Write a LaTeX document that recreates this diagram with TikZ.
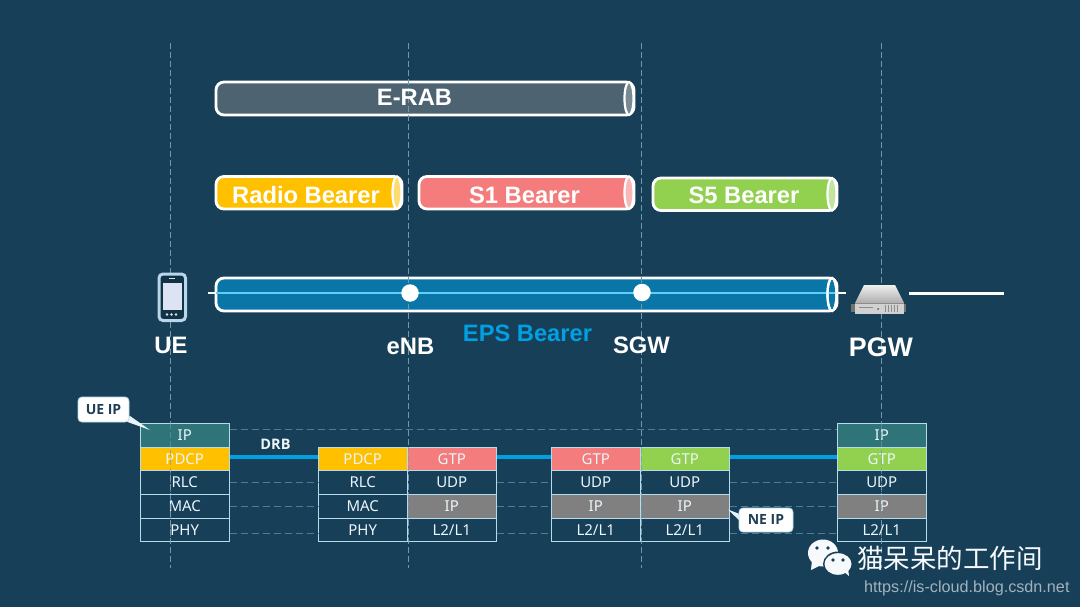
\documentclass[tikz,border=0pt]{standalone}
\usepackage{fontspec}
\setmainfont{Liberation Sans}
\newfontfamily\cellf{Noto Sans}
\newfontfamily\boldf{Open Sans}
\newfontfamily\cjk{Noto Sans CJK SC}
\usetikzlibrary{calc}
\definecolor{bg}{HTML}{173F58}
\definecolor{cellline}{HTML}{B5DCE8}
\definecolor{dashc}{HTML}{6F9AAE}
\definecolor{hdashc}{HTML}{4F7C92}
\definecolor{linkc}{HTML}{00A0E3}
\definecolor{tealc}{HTML}{2F7479}
\definecolor{yel}{HTML}{FFC000}
\definecolor{red1}{HTML}{F47C7C}
\definecolor{grn}{HTML}{92D050}
\definecolor{gry}{HTML}{808080}
\definecolor{rabc}{HTML}{4E6371}
\definecolor{epsc}{HTML}{0A76A8}
\definecolor{epsl}{HTML}{62CDF7}
\definecolor{phonec}{HTML}{B9D6EA}
\definecolor{screenc}{HTML}{DDE3F3}
\definecolor{txtc}{HTML}{EAF6FA}
\definecolor{callt}{HTML}{1F3F55}
\tikzset{
  cell/.style={draw=cellline,line width=0.9pt,minimum width=89pt,minimum height=23.7pt,inner sep=0pt,anchor=north west,text=txtc,font=\cellf\fontsize{15}{15}\selectfont},
  pipebody/.style={draw=white,line width=2.8pt,rounded corners=8pt,inner sep=0pt},
  head/.style={text=white,font=\bfseries\fontsize{23.8}{24}\selectfont,inner sep=0pt},
  pipetxt/.style={text=white,font=\bfseries\fontsize{23.7}{24}\selectfont,inner sep=0pt},
  vguide/.style={draw=dashc,line width=0.6pt,dash pattern=on 6pt off 3pt},
  hguide/.style={draw=hdashc,line width=0.6pt,dash pattern=on 7pt off 4pt},
  linkline/.style={draw=linkc,line width=4.2pt},
  callout/.style={fill=white,draw=cellline,line width=0.8pt,rounded corners=4pt,text=callt,inner sep=0pt,font=\boldf\bfseries\fontsize{14}{14}\selectfont},
}
\newcommand{\pipe}[7]{% name x1 x2 y1 y2 fill endfill
  \node[pipebody,fill=#6,minimum width={#3-#2},minimum height={#5-#4}] (#1) at ({(#2+#3)/2},{(#4+#5)/2}) {};
  \fill[#7] ({#3-5},{(#4+#5)/2}) ellipse [x radius=4.5,y radius={(#5-#4)/2}];
  \draw[white,line width=2.2pt] ({#3-5},{(#4+#5)/2}) ellipse [x radius=4.5,y radius={(#5-#4)/2}];
}
\begin{document}
\begin{tikzpicture}[x=1pt,y=-1pt]
\useasboundingbox (0,0) rectangle (1080,607);
\fill[bg] (0,0) rectangle (1080,607);

% pipes
\pipe{rab}{216}{634}{82}{115}{rabc}{rabc!75!white}
\pipe{radio}{216}{402}{176.5}{209}{yel}{yel!55!white}
\pipe{sone}{419}{634}{176.5}{209}{red1}{red1!55!white}
\pipe{sfive}{653}{837}{178}{210.5}{grn}{grn!55!white}
\coordinate (epsL) at (208,293);
\coordinate (epsR) at (846,293);
\pipe{eps}{216}{837}{278}{311}{epsc}{epsc}
\draw[epsl,line width=2.2pt] (epsL) -- (epsR);
\draw[white,line width=2pt] (208,293) -- (216,293);
\draw[white,line width=2pt] (838,293) -- (846,293);
\draw[white,line width=2.2pt] (832,294.5) ellipse [x radius=4.5,y radius=16.5];

% vertical guides
\foreach \n/\x/\a/\b in {a/170/43/568,b/408/43/568,c/641/43/568,d/881/43/568}{
  \coordinate (vt\n) at (\x,\a);
  \coordinate (vb\n) at (\x,\b);
  \draw[vguide] (vt\n) -- (vb\n);
}

% dots
\node[circle,fill=white,minimum size=17.5pt,inner sep=0pt] (dotE) at (410,293) {};
\node[circle,fill=white,minimum size=17.5pt,inner sep=0pt] (dotS) at (642,292.5) {};
\coordinate (lineA) at (909,293.5);
\coordinate (lineB) at (1004,293.5);
\draw[white,line width=2.2pt] (lineA) -- (lineB);

% pipe labels
\node[pipetxt] (tRab) at (414.5,97) {E-RAB};
\node[pipetxt] (tRadio) at (306,195) {Radio Bearer};
\node[pipetxt] (tSone) at (524.5,195) {S1 Bearer};
\node[pipetxt] (tSfive) at (744,195.5) {S5 Bearer};
\node[pipetxt,text=linkc] (tEps) at (527.5,333) {EPS Bearer};

% phone
\draw[phonec,line width=3pt,fill=bg!80!black,rounded corners=4pt] (159,274) rectangle (185.5,320.5);
\fill[screenc] (163,283) rectangle (182,310);
\fill[screenc] (167,314.5) circle (1.4) (171.5,314.5) circle (1.4) (176,314.5) circle (1.4);
\draw[screenc,line width=1pt] (169,278.5) -- (175,278.5);

% server
\fill[black!55!white] (851,304) rectangle (906,312);
\shade[top color=black!6,bottom color=black!32] (864,285) -- (895,285) -- (904,303) -- (855,303) -- cycle;
\fill[black!18!white] (855,303) rectangle (904,314);
\draw[black!45!white,line width=0.6pt] (855,303) -- (904,303);
\draw[black!45,line width=0.5pt] (859,307) -- (873,307) (885,305) -- (885,312) (888,305) -- (888,312) (891,305) -- (891,312) (894,305) -- (894,312) (897,305) -- (897,312);
\fill[black!65] (878,309) circle (1);

% headings
\node[head] (lUE) at (171,345.5) {UE};
\node[head] (lENB) at (410.5,346) {eNB};
\node[head] (lSGW) at (641.5,345.5) {SGW};
\node[head,font=\bfseries\fontsize{26.8}{27}\selectfont] (lPGW) at (881,347) {PGW};

% stacks
\node[cell,fill=tealc] (uIP) at (139.8,422.8) {IP};
\node[cell,fill=yel] (uPD) at (139.8,446.5) {PDCP};
\node[cell] (uRL) at (139.8,470.2) {RLC};
\node[cell] (uMA) at (139.8,493.9) {MAC};
\node[cell] (uPH) at (139.8,517.6) {PHY};

\node[cell,fill=yel] (ePD) at (317.8,446.5) {PDCP};
\node[cell] (eRL) at (317.8,470.2) {RLC};
\node[cell] (eMA) at (317.8,493.9) {MAC};
\node[cell] (ePH) at (317.8,517.6) {PHY};

\node[cell,fill=red1] (fGT) at (406.8,446.5) {GTP};
\node[cell] (fUD) at (406.8,470.2) {UDP};
\node[cell,fill=gry] (fIP) at (406.8,493.9) {IP};
\node[cell] (fL2) at (406.8,517.6) {L2/L1};

\node[cell,fill=red1] (gGT) at (550.8,446.5) {GTP};
\node[cell] (gUD) at (550.8,470.2) {UDP};
\node[cell,fill=gry] (gIP) at (550.8,493.9) {IP};
\node[cell] (gL2) at (550.8,517.6) {L2/L1};

\node[cell,fill=grn] (hGT) at (639.8,446.5) {GTP};
\node[cell] (hUD) at (639.8,470.2) {UDP};
\node[cell,fill=gry] (hIP) at (639.8,493.9) {IP};
\node[cell] (hL2) at (639.8,517.6) {L2/L1};

\node[cell,fill=tealc] (pIP) at (836.8,422.8) {IP};
\node[cell,fill=grn] (pGT) at (836.8,446.5) {GTP};
\node[cell] (pUD) at (836.8,470.2) {UDP};
\node[cell,fill=gry] (pIPb) at (836.8,493.9) {IP};
\node[cell] (pL2) at (836.8,517.6) {L2/L1};

% guides faintly over stacks
\begin{scope}[opacity=0.6]
\draw[vguide] (170,423) -- (170,542);
\draw[vguide] (408,447) -- (408,542);
\draw[vguide] (641,447) -- (641,542);
\draw[vguide] (881,423) -- (881,542);
\end{scope}

% horizontal guides
\draw[hguide] ([yshift=5.5pt]uIP.east) -- ([yshift=5.5pt]pIP.west);
\draw[hguide] (uRL.east) -- (eRL.west);
\draw[hguide] (uMA.east) -- (eMA.west);
\draw[hguide] ([yshift=-3pt]uPH.east) -- ([yshift=-3pt]ePH.west);
\draw[hguide] (fUD.east) -- (gUD.west);
\draw[hguide] (fIP.east) -- (gIP.west);
\draw[hguide] ([yshift=-3pt]fL2.east) -- ([yshift=-3pt]gL2.west);
\draw[hguide] (hUD.east) -- (pUD.west);
\draw[hguide] (hIP.east) -- (pIPb.west);
\draw[hguide] ([yshift=-3pt]hL2.east) -- ([yshift=-3pt]pL2.west);

% links
\draw[linkline] ([yshift=1.5pt]uPD.east) -- ([yshift=1.5pt]ePD.west);
\draw[linkline] ([yshift=1.5pt]fGT.east) -- ([yshift=1.5pt]gGT.west);
\draw[linkline] ([yshift=1.5pt]hGT.east) -- ([yshift=1.5pt]pGT.west);
\node[text=txtc,inner sep=0pt,font=\boldf\bfseries\fontsize{14.5}{14}\selectfont] (tDRB) at (275.5,444) {DRB};

% callouts
\coordinate (ueTip) at (150,430);
\coordinate (neTip) at (728,509.5);
\fill[white!70!phonec] (122,420) -- (ueTip) -- (130,416) -- cycle;
\fill[white!70!phonec] (742,515) -- (neTip) -- (742,523) -- cycle;
\node[callout,minimum width=51pt,minimum height=25pt] (cUE) at (103.5,409.5) {UE IP};
\node[callout,minimum width=54pt,minimum height=24pt] (cNE) at (766,520) {NE IP};

% watermark
\fill[white!88!phonec] (823,553) ellipse [x radius=15,y radius=13.5];
\fill[white!88!phonec] (812,560) -- (811,570) -- (821,565) -- cycle;
\fill[bg] (838,564) ellipse [x radius=15,y radius=12.5];
\fill[white!88!phonec] (838,564) ellipse [x radius=13.5,y radius=10.8];
\fill[white!88!phonec] (843,571) -- (849,576) -- (848,568) -- cycle;
\fill[bg] (817,548) circle (1.8) (828,548) circle (1.8) (833,560) circle (1.8) (843,560) circle (1.8);
\node[anchor=west,inner sep=0pt,text=white!88!phonec,font=\cjk\fontsize{26.5}{27}\selectfont] (wm) at (857,558) {猫呆呆的工作间};
\node[anchor=west,inner sep=0pt,text=white!60!bg,font=\fontsize{16.2}{17}\selectfont] (url) at (864,588) {https://is-cloud.blog.csdn.net};
\end{tikzpicture}
\end{document}
